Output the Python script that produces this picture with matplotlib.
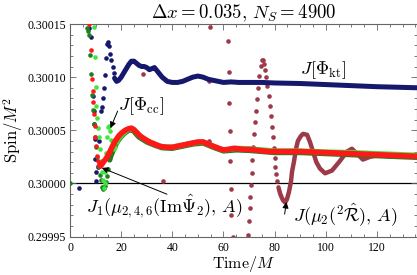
import matplotlib
matplotlib.use('Agg')
import matplotlib.pyplot as plt
import numpy as np
from matplotlib.ticker import MultipleLocator, FormatStrFormatter

plt.rcParams['font.family'] = ['Liberation Serif', 'DejaVu Serif']
plt.rcParams['mathtext.fontset'] = 'cm'

J0 = 0.3      # baseline spin
UNIT = 1e-5   # all offsets below are in units of 1e-5

# J[Phi_kt] (navy)
kt_t_early = [3.5, 7.3, 8.2, 8.8, 9.2, 9.5, 9.7, 9.9, 10.1, 10.3, 10.8, 11.4, 12.0,
              12.5, 13.0, 13.4, 13.8, 14.2, 14.6, 15.0, 15.4, 15.8, 16.2, 16.6, 17.0]
kt_dy_early = [-0.47, 14.6, 13.8, 8.2, 6.8, 5.6, 4.2, 2.3, 1.1, 0.2, 1.5, 4.0, 6.8,
               7.2, 8.0, 9.0, 10.2, 11.8, 13.1, 13.3, 12.9, 12.2, 11.6, 11.0, 10.4]
kt_t = [17.4, 18.2, 19, 20, 21, 22, 23, 24, 25, 26, 27, 28, 29, 30, 31, 32, 33, 34, 35,
        36, 37, 38, 40, 42, 44, 46, 48, 50, 52, 54, 56, 58, 60, 63, 66, 70, 75, 80, 90,
        100, 110, 120, 128, 135.5]
kt_dy = [9.9, 9.6, 9.7, 10.0, 10.4, 10.8, 11.2, 11.5, 11.5, 11.3, 11.1, 11.0, 11.0, 10.9,
         10.7, 10.8, 10.9, 10.6, 10.3, 10.0, 9.8, 9.6, 9.5, 9.5, 9.6, 9.8, 10.0, 10.1, 10.0,
         9.8, 9.7, 9.6, 9.5, 9.55, 9.5, 9.5, 9.5, 9.45, 9.4, 9.3, 9.2, 9.1, 9.05, 9.0]

# J_1(mu_{2,4,6}(Im Psi_2), A) (red)
j1_t_early = [7.3, 8.1, 8.5, 8.8, 9.1, 9.4, 9.6, 9.8, 10.1, 10.4, 10.8, 11.2]
j1_dy_early = [15.0, 12.6, 9.8, 8.7, 7.7, 6.5, 5.4, 4.4, 3.5, 2.6, 2.1, 1.8]
j1_t = [11.7, 12.3, 13, 14, 15, 16, 17, 18, 19, 20, 21, 22, 23, 24, 25, 26, 27, 28, 29,
        30, 31, 32, 33, 34, 35, 36, 38, 40, 42, 44, 46, 48, 50, 52, 54, 56, 58, 60, 62,
        64, 66, 68, 70, 72, 74, 76, 78, 80, 85, 90, 95, 100, 105, 110, 115, 120, 125,
        130, 135.5]
j1_dy = [1.6, 1.75, 2.0, 2.3, 2.7, 3.2, 3.7, 4.1, 4.45, 4.7, 4.9, 5.05, 5.15, 5.2, 5.05,
         4.8, 4.55, 4.35, 4.2, 4.05, 3.9, 3.8, 3.7, 3.6, 3.5, 3.45, 3.4, 3.4, 3.5, 3.6,
         3.7, 3.8, 3.9, 3.9, 3.7, 3.5, 3.3, 3.15, 3.2, 3.3, 3.25, 3.2, 3.2, 3.15, 3.1,
         3.05, 3.0, 3.0, 3.0, 3.0, 2.95, 2.9, 2.85, 2.8, 2.75, 2.7, 2.65, 2.6, 2.55]

# unlabelled dark green series
dg_t_early = [0, 6.5, 6.9, 7.3, 7.7, 8.1, 8.5, 8.9, 9.3, 9.7, 10.1, 10.6, 11.1, 11.6,
              12.1, 12.6, 13.0, 13.4, 13.8, 14.2, 14.6, 15.0]
dg_dy_early = [0, 14.6, 14.3, 14.0, 12.1, 10.3, 8.3, 6.9, 5.6, 4.4, 3.4, 2.5, 1.6, 0.8,
               0.3, -0.3, -0.5, -0.4, -0.2, 0.1, 0.7, 1.4]
dg_t = [15.5, 16, 17, 18, 19, 20, 21, 22, 23, 24, 25, 26, 27, 28, 30, 33, 36, 40, 44,
        48, 52, 56, 60, 65, 70, 80, 90, 100, 110, 120, 135.5]
dg_dy = [2.2, 2.6, 3.2, 3.7, 4.1, 4.4, 4.65, 4.85, 5.0, 5.05, 4.9, 4.6, 4.35, 4.2, 3.9,
         3.6, 3.35, 3.3, 3.5, 3.7, 3.8, 3.4, 3.05, 3.15, 3.1, 2.9, 2.9, 2.8, 2.7, 2.6, 2.45]

# J[Phi_cc] (bright green)
cc_t_early = [9.5, 9.8, 10.0, 10.3, 10.6, 11.0, 11.4, 11.8, 12.2, 12.6, 12.9, 13.2, 13.5,
              13.8, 14.1, 14.4, 14.7, 15.1, 15.5, 16.0, 16.5, 17.0, 17.6, 18.3]
cc_dy_early = [14.7, 11.9, 9.1, 7.3, 6.2, 5.2, 4.4, 3.2, 2.1, 1.1, 0.3, -0.4, 0.0, 1.1,
               2.9, 4.4, 5.3, 5.4, 4.9, 4.1, 3.5, 3.2, 3.4, 3.9]
cc_t = [19, 20, 21, 22, 23, 24, 25, 26, 27, 28, 30, 33, 36, 40, 44, 48, 52, 56, 60, 65,
        70, 80, 90, 100, 110, 120, 135.5]
cc_dy = [4.2, 4.5, 4.75, 4.95, 5.1, 5.15, 5.05, 4.8, 4.55, 4.35, 4.05, 3.7, 3.45, 3.4,
         3.6, 3.8, 3.9, 3.5, 3.15, 3.3, 3.25, 3.05, 3.05, 2.95, 2.9, 2.8, 2.65]

# J(mu_2(^2R), A) (maroon)
mu_t_sparse = [28.5, 36.4, 54.3, 54.5, 54.7, 61.8, 62.0, 62.2, 62.4, 62.7, 62.9, 63.1,
               63.7, 69.7, 70.0, 70.3, 70.5, 70.8, 71.0, 71.3, 71.7, 71.9, 72.3, 72.7,
               73.1, 73.6, 74.0, 74.6, 75.2, 75.6, 76.0, 76.4, 76.8, 77.2, 77.6, 78.0,
               78.4, 78.8, 79.2, 79.6, 80.0, 80.3, 80.7, 81.1]
mu_dy_sparse = [10.25, 0.25, 4.0, 9.6, 14.7, 13.4, 10.5, 7.6, 4.9, 2.1, -0.5, -3.0,
                -5.05, -4.82, -3.57, -2.33, -1.24, -0.16, 0.93, 2.17, 3.42, 4.66, 5.75,
                6.83, 7.92, 9.01, 10.09, 11.02, 11.6, 11.65, 11.27, 10.71, 9.97, 9.13,
                8.2, 7.27, 6.34, 5.31, 4.38, 3.35, 2.42, 1.58, 0.84, 0.19]
mu_t = [81.5, 82.1, 82.7, 83.3, 84.1, 84.8, 85.6, 86.4, 86.8, 87.6, 88.3, 89.1, 90.3,
        91.1, 92.7, 93.8, 95.0, 96.3, 97.7, 99.7, 102.4, 105.5, 108.3, 110.2, 112.2,
        114.5, 117.3, 121.2, 125.1, 130.2, 135.6]
mu_dy = [-0.37, -0.93, -1.3, -1.6, -1.8, -1.5, -0.8, 0.2, 1.1, 2.1, 3.2, 4.0, 4.47, 4.66,
         4.57, 3.9, 3.0, 2.0, 1.4, 0.95, 1.2, 2.1, 3.0, 3.26, 2.8, 2.24, 2.5, 2.7, 2.52,
         2.52, 2.6]

C_KT = '#15186c'
C_J1 = '#ff1818'
C_DG = '#1f7d1f'
C_CC = '#3fe63f'
C_MU = '#9c3a4a'


def spin(dy):
    return J0 + np.asarray(dy) * UNIT


def draw_series(ax, t_early, dy_early, t, dy, color, lw, z):
    ax.plot(t_early, spin(dy_early), 'o', ms=3.3, color=color, mec='none', zorder=z)
    ax.plot(t, spin(dy), '-', lw=lw, color=color, solid_capstyle='round',
            solid_joinstyle='round', zorder=z)


fig = plt.figure(figsize=(4.17, 2.75), dpi=100)
ax = fig.add_axes([0.168, 0.14, 0.831, 0.7727])

ax.axhline(J0, color='k', lw=0.9, zorder=1)

draw_series(ax, mu_t_sparse, mu_dy_sparse, mu_t, mu_dy, C_MU, 3.2, 2)
draw_series(ax, kt_t_early, kt_dy_early, kt_t, kt_dy, C_KT, 3.6, 3)
draw_series(ax, dg_t_early, dg_dy_early, dg_t, dg_dy, C_DG, 3.8, 4)
draw_series(ax, cc_t_early, cc_dy_early, cc_t, cc_dy, C_CC, 3.8, 5)
draw_series(ax, j1_t_early, j1_dy_early, j1_t, j1_dy, C_J1, 4.0, 6)

ax.set_xlim(0, 135.5)
ax.set_ylim(0.29995, 0.30015)
ax.xaxis.set_major_locator(MultipleLocator(20))
ax.xaxis.set_minor_locator(MultipleLocator(5))
ax.yaxis.set_major_locator(MultipleLocator(5e-5))
ax.yaxis.set_minor_locator(MultipleLocator(1e-5))
ax.yaxis.set_major_formatter(FormatStrFormatter('%.5f'))
ax.tick_params(which='both', direction='in', top=True, right=True,
               color='#666666', width=0.6, labelsize=8.5)
ax.tick_params(which='major', length=4)
ax.tick_params(which='minor', length=2)
ax.tick_params(axis='x', pad=4)
ax.tick_params(axis='y', pad=3)
for s in ax.spines.values():
    s.set_color('#666666')
    s.set_linewidth(0.8)

ax.set_title(r'$\Delta x = 0.035,\, N_S = 4900$', fontsize=13.5, pad=4)
ax.set_xlabel(r'$\mathrm{Time}/M$', fontsize=11.5)
ax.xaxis.set_label_coords(0.5, -0.083)
ax.set_ylabel(r'$\mathrm{Spin}/M^2$', fontsize=12)
ax.yaxis.set_label_coords(-0.13, 0.5)

ax.text(89.9, spin(10.7), r'$J[\Phi_{\mathrm{kt}}]$', fontsize=13, va='center', ha='left')
ax.text(18.8, spin(7.27), r'$J[\Phi_{\mathrm{cc}}]$', fontsize=13, va='center', ha='left')
ax.text(6.25, spin(-2.14), r'$J_1(\mu_{2,4,6}(\mathrm{Im}\hat{\Psi}_2),\,A)$',
        fontsize=13, va='center', ha='left')
ax.text(87.2, spin(-2.98), r'$J(\mu_2({}^2\hat{\mathcal{R}}),\,A)$',
        fontsize=13, va='center', ha='left')

arrow = dict(arrowstyle='-|>', color='k', lw=0.7, mutation_scale=9, shrinkA=0, shrinkB=0)
ax.annotate('', xy=(15.8, spin(5.2)), xytext=(18.6, spin(6.8)), arrowprops=arrow, zorder=8)
ax.annotate('', xy=(12.4, spin(1.46)), xytext=(37.9, spin(-1.02)), arrowprops=arrow, zorder=8)
ax.annotate('', xy=(84.6, spin(-1.75)), xytext=(83.9, spin(-2.9)), arrowprops=arrow, zorder=8)

fig.savefig('out.png', dpi=100)
